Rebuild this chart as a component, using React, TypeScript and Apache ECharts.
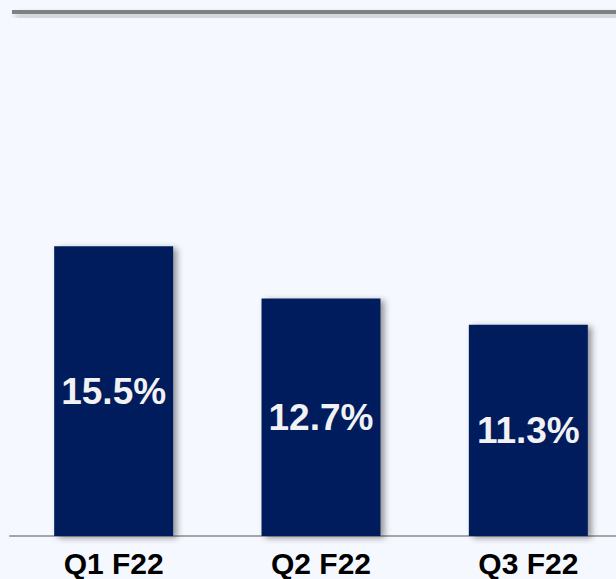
import React, { useEffect, useRef } from "react";
import * as echarts from "echarts";

const categories: string[] = ["Q1 F22", "Q2 F22", "Q3 F22"];
const values: number[] = [15.5, 12.7, 11.3];

export default function App() {
  const ref = useRef<HTMLDivElement>(null);
  useEffect(() => {
    if (!ref.current) return;
    const chart = echarts.init(ref.current, null, { renderer: "svg" });
    const font = "'Liberation Sans', Arial, Helvetica, sans-serif";
    chart.setOption({
      animation: false,
      backgroundColor: "#F5F8FF",
      graphic: [
        {
          type: "rect",
          shape: { x: 12, y: 10, width: 640, height: 4 },
          style: {
            fill: "#808080",
            shadowColor: "rgba(0,0,0,0.3)",
            shadowBlur: 6,
            shadowOffsetX: 3,
            shadowOffsetY: 4,
          },
          z: 10,
        },
      ],
      grid: { left: 10, top: 162, width: 622, height: 374 },
      xAxis: {
        type: "category",
        data: categories,
        axisTick: { show: false },
        axisLine: { show: true, lineStyle: { color: "#A6A6A6", width: 2 } },
        axisLabel: {
          color: "#000000",
          fontSize: 30,
          fontWeight: "bold",
          fontFamily: font,
          margin: 12,
          lineHeight: 30,
        },
      },
      yAxis: {
        type: "value",
        min: 0,
        max: 20,
        show: false,
        splitLine: { show: false },
      },
      series: [
        {
          type: "bar",
          data: values,
          barWidth: 119,
          itemStyle: {
            color: "#001F5B",
            shadowColor: "rgba(0,0,0,0.4)",
            shadowBlur: 6,
            shadowOffsetX: 4,
            shadowOffsetY: 2,
          },
          label: {
            show: true,
            position: "inside",
            formatter: (p: any) => p.value.toFixed(1) + "%",
            color: "#F2F2F5",
            fontSize: 37,
            fontWeight: "bold",
            fontFamily: font,
          },
        },
      ],
    });
    return () => chart.dispose();
  }, []);
  return (
    <div
      style={{
        position: "fixed",
        left: 0,
        top: 0,
        width: 616,
        height: 579,
        overflow: "hidden",
        background: "#F5F8FF",
      }}
    >
      <div ref={ref} style={{ width: 640, height: 579 }} />
    </div>
  );
}
